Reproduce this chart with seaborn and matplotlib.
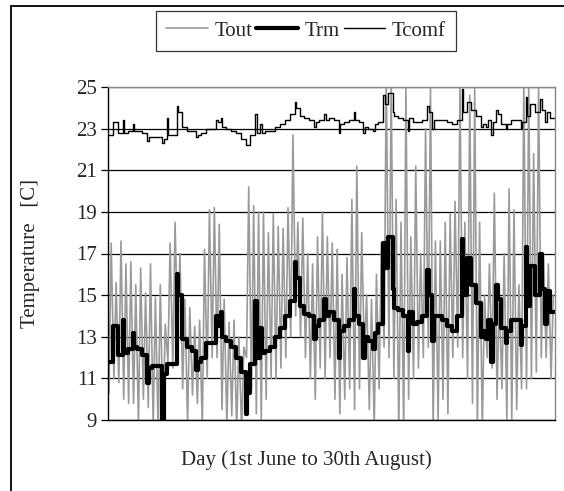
import numpy as np
import pandas as pd
import matplotlib
matplotlib.use("Agg")
import matplotlib.pyplot as plt
import matplotlib.patches as patches
import seaborn as sns

# ---- data (one value per day, 1 June .. 30 August) ----
tout_min = [10.3, 11.0, 10.8, 10.0, 9.8, 9.8, 8.8, 10.0, 9.6, 8.7, 8.5, 8.5, 11.8, 11.5, 13.0,
            10.5, 8.8, 10.2, 9.8, 8.7, 11.0, 12.0, 12.0, 9.5, 8.7, 9.2, 8.5, 8.5, 12.0, 10.5,
            9.3, 9.0, 10.0, 11.0, 11.0, 11.5, 12.0, 13.0, 14.0, 13.0, 12.0, 11.0, 10.0, 11.5, 11.0,
            12.0, 10.0, 9.3, 10.0, 10.5, 9.5, 10.5, 12.0, 9.5, 8.6, 10.5, 12.5, 12.0, 11.0, 8.5,
            8.5, 10.0, 11.0, 11.5, 12.0, 12.5, 8.5, 9.0, 10.0, 9.3, 12.0, 12.5, 12.0, 11.0, 9.8,
            8.5, 8.5, 12.0, 11.5, 10.0, 10.5, 9.0, 9.0, 9.5, 10.5, 10.5, 11.0, 11.3, 12.0, 12.0, 11.0]
tout_max = [17.5, 15.6, 17.6, 16.5, 16.6, 15.5, 16.3, 15.1, 16.5, 14.9, 15.5, 13.6, 17.5, 18.5, 17.0,
            14.8, 14.4, 13.5, 13.8, 17.2, 19.1, 19.2, 18.4, 14.8, 13.7, 13.8, 13.0, 12.5, 20.2, 19.3,
            19.0, 19.0, 18.0, 18.9, 18.3, 18.2, 19.2, 22.7, 18.5, 18.7, 17.0, 16.5, 17.8, 19.0, 17.8,
            17.5, 17.2, 16.0, 16.8, 19.6, 21.2, 18.0, 15.0, 14.8, 16.0, 17.5, 25.5, 25.3, 19.6, 18.5,
            25.0, 17.8, 21.2, 17.0, 23.0, 25.0, 17.6, 17.6, 18.5, 18.9, 19.5, 25.0, 18.5, 24.6, 25.0,
            18.5, 15.0, 16.5, 19.9, 15.0, 17.0, 20.1, 19.1, 15.5, 25.2, 25.0, 21.8, 25.0, 17.0, 16.5, 15.0]

trm_level = [11.8, 13.5, 12.1, 12.2, 12.4, 12.5, 12.4, 12.1, 11.5, 11.6, 11.6, 11.2, 11.7, 11.7, 15.0,
             12.9, 12.5, 12.3, 11.8, 12.0, 12.7, 12.7, 13.5, 13.0, 12.8, 12.5, 12.0, 11.3, 10.3, 11.7,
             12.0, 12.2, 12.3, 12.5, 13.0, 13.4, 14.0, 14.7, 15.8, 14.5, 14.1, 14.0, 13.5, 13.8, 14.0,
             14.2, 13.8, 13.3, 13.5, 13.8, 14.0, 13.6, 13.0, 12.8, 13.2, 13.6, 16.3, 17.8, 14.4, 14.3,
             14.0, 14.2, 13.6, 13.7, 14.0, 15.0, 14.0, 14.0, 13.8, 13.5, 13.3, 14.0, 15.0, 16.8, 15.5,
             14.6, 13.3, 13.8, 13.6, 14.8, 13.4, 13.3, 13.8, 13.8, 13.5, 14.5, 16.4, 15.0, 15.3, 15.2, 14.2]
# short transient value at the start of each day (equal to the level when there is none)
trm_start = [11.8, 13.5, 12.1, 13.8, 12.4, 13.2, 12.4, 12.1, 10.8, 11.6, 11.6, 8.5, 11.7, 11.7, 16.0,
             12.9, 12.5, 12.3, 11.4, 12.0, 12.7, 12.7, 14.0, 14.2, 12.8, 12.5, 12.0, 11.3, 9.3, 11.7,
             14.7, 13.4, 12.3, 12.5, 13.0, 13.4, 14.0, 14.7, 16.6, 14.5, 14.1, 14.0, 12.9, 13.8, 14.8,
             14.2, 13.8, 12.0, 13.5, 13.8, 15.3, 13.6, 12.0, 12.8, 12.4, 13.6, 17.5, 17.8, 15.3, 14.3,
             14.0, 12.3, 13.6, 13.7, 14.0, 16.2, 12.8, 14.0, 13.8, 13.5, 13.3, 14.0, 17.7, 16.8, 15.5,
             14.6, 13.0, 12.9, 11.8, 15.5, 13.4, 12.7, 13.8, 13.8, 12.6, 17.3, 16.4, 15.0, 17.0, 13.6, 14.2]

tcomf_level = [22.7, 23.3, 22.8, 22.8, 22.9, 22.9, 22.9, 22.8, 22.6, 22.6, 22.6, 22.5, 22.7, 22.7, 23.8,
               23.1, 22.9, 22.9, 22.7, 22.8, 23.0, 23.0, 23.3, 23.1, 23.0, 22.9, 22.8, 22.5, 22.2, 22.7,
               22.8, 22.8, 22.9, 22.9, 23.1, 23.2, 23.4, 23.7, 24.0, 23.6, 23.5, 23.4, 23.3, 23.4, 23.4,
               23.5, 23.4, 23.2, 23.3, 23.4, 23.4, 23.3, 23.1, 23.0, 23.2, 23.3, 24.2, 24.7, 23.6, 23.5,
               23.4, 23.5, 23.3, 23.3, 23.4, 23.8, 23.4, 23.4, 23.4, 23.3, 23.2, 23.4, 23.8, 24.3, 23.9,
               23.6, 23.2, 23.4, 23.3, 23.7, 23.2, 23.2, 23.4, 23.4, 23.3, 23.6, 24.2, 23.8, 23.9, 23.8, 23.5]
tcomf_start = [22.7, 23.3, 22.8, 23.4, 22.9, 23.2, 22.9, 22.8, 22.4, 22.6, 22.6, 22.3, 23.5, 22.7, 24.1,
               23.1, 22.9, 22.9, 22.6, 22.8, 23.0, 23.0, 23.4, 23.5, 23.0, 22.9, 22.8, 22.5, 22.2, 22.7,
               23.7, 23.2, 22.9, 22.9, 23.1, 23.2, 23.4, 23.7, 24.3, 23.6, 23.5, 23.4, 23.1, 23.4, 23.7,
               23.5, 23.4, 22.8, 23.3, 23.4, 23.8, 23.3, 22.8, 23.0, 22.9, 23.3, 24.6, 24.7, 23.8, 23.5,
               23.4, 22.9, 23.3, 23.3, 23.4, 24.1, 23.0, 23.4, 23.4, 23.3, 23.2, 23.4, 24.9, 24.3, 23.9,
               23.6, 23.1, 23.1, 22.7, 23.9, 23.2, 23.0, 23.4, 23.4, 23.0, 24.5, 24.2, 23.8, 24.4, 23.3, 23.5]

y_ticks = [9, 11, 13, 15, 17, 19, 21, 23, 25]
series_names = ["Tout", "Trm", "Tcomf"]

# ---- build long tables ----
n_days = len(trm_level)
days = np.arange(n_days)

tout_x = np.column_stack([days + 0.2, days + 0.65]).ravel()
tout_y = np.column_stack([tout_min, tout_max]).ravel()
df_tout = pd.DataFrame({"day": tout_x, "temp": tout_y})

def step_table(start, level):
    x = np.column_stack([days, days + 0.3]).ravel()
    y = np.column_stack([start, level]).ravel()
    x = np.append(x, n_days)
    y = np.append(y, level[-1])
    return pd.DataFrame({"day": x, "temp": y})

df_trm = step_table(trm_start, trm_level)
df_tcomf = step_table(tcomf_start, tcomf_level)

# ---- figure ----
FS = 15
sns.set_theme(style="white")
plt.rcParams["font.family"] = ["Liberation Serif", "DejaVu Serif"]
plt.rcParams["font.size"] = FS

fig = plt.figure(figsize=(5.64, 4.91), dpi=100)
ax = fig.add_axes([108 / 564, 1 - 420 / 491, (555 - 108) / 564, (420 - 87) / 491])

sns.lineplot(data=df_tout, x="day", y="temp", ax=ax, color="#9a9a9a", lw=1.2,
             estimator=None, sort=False, label=series_names[0])
sns.lineplot(data=df_trm, x="day", y="temp", ax=ax, color="black", lw=3.0,
             estimator=None, sort=False, drawstyle="steps-post", label=series_names[1])
sns.lineplot(data=df_tcomf, x="day", y="temp", ax=ax, color="black", lw=1.0,
             estimator=None, sort=False, drawstyle="steps-post", label=series_names[2])

ax.set_xlim(0, n_days)
ax.set_ylim(y_ticks[0], y_ticks[-1])
ax.set_yticks(y_ticks)
ax.set_yticklabels([str(t) for t in y_ticks], fontsize=FS)
ax.set_xticks([])
ax.yaxis.grid(True, color="black", lw=0.9)
ax.xaxis.grid(False)
ax.set_axisbelow(True)
ax.tick_params(axis="y", which="both", left=True, direction="out", length=5, width=0.9,
               color="black", pad=3)
for side in ["left", "bottom"]:
    ax.spines[side].set_color("black")
    ax.spines[side].set_linewidth(1.0)
for side in ["top", "right"]:
    ax.spines[side].set_color("#888888")
    ax.spines[side].set_linewidth(1.0)

ax.set_xlabel("")
ax.set_ylabel("Temperature   [C]", fontsize=FS, labelpad=26)

fig.text(306 / 564, 1 - 460 / 491, "Day (1st June to 30th August)", ha="center", va="center",
         fontsize=FS)

handles, labels = ax.get_legend_handles_labels()
ax.get_legend().remove()
leg = fig.legend(handles, labels, loc="center", bbox_to_anchor=(306 / 564, 1 - 31 / 491),
                 ncol=3, frameon=True, fancybox=False, fontsize=FS, handlelength=2.0,
                 handletextpad=0.3, columnspacing=0.2, borderpad=0.5)
leg.get_frame().set_edgecolor("black")
leg.get_frame().set_linewidth(0.9)

# outer frame of the figure (only left/top visible in the reference)
fig.patches.append(patches.Rectangle((11 / 564, -0.2), 1.3, 1.2 - 6 / 491, fill=False,
                                     edgecolor="black", lw=1.3, transform=fig.transFigure,
                                     figure=fig))

fig.savefig("out.png", dpi=100)
